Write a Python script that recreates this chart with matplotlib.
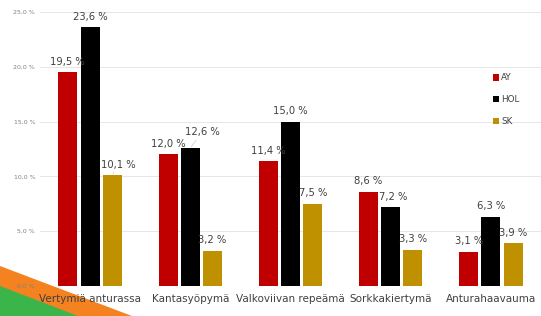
import matplotlib.pyplot as plt
import numpy as np
from matplotlib.patches import Polygon

categories = ["Vertymiä anturassa", "Kantasyöpymä", "Valkoviivan repeämä",
              "Sorkkakiertymä", "Anturahaavauma"]
ay = [19.5, 12.0, 11.4, 8.6, 3.1]
hol = [23.6, 12.6, 15.0, 7.2, 6.3]
sk = [10.1, 3.2, 7.5, 3.3, 3.9]
series_names = ["AY", "HOL", "SK"]
colors = ["#C00000", "#000000", "#BF9000"]

W, H = 541, 316
fig = plt.figure(figsize=(W / 100, H / 100), dpi=100)
ax = fig.add_axes([40 / W, 30 / H, 1 - 40 / W, (286 - 12) / H])
ax.patch.set_visible(False)

# labels that were dragged aside in the original (series idx, category idx) -> (dx, dy) pt
nudges = {(1, 1): (8.5, 3.5), (2, 0): (4, 0), (1, 3): (2, 0)}
leaders = {(1, 1), (2, 0)}

x = np.arange(len(categories))
bw = 0.19
step = 0.222
for i, (vals, name, c) in enumerate(zip([ay, hol, sk], series_names, colors)):
    pos = x + (i - 1) * step
    ax.bar(pos, vals, width=bw, color=c, zorder=3, label=name)
    for j, (p, v) in enumerate(zip(pos, vals)):
        dx, dy = nudges.get((i, j), (0, 0))
        ap = None
        if (i, j) in leaders:
            ap = dict(arrowstyle="-", color="#C8C8C8", lw=0.5, shrinkA=0, shrinkB=1)
        ax.annotate(f"{v:.1f} %".replace(".", ","), xy=(p, v), xytext=(dx, 4 + dy),
                    textcoords="offset points", ha="center", va="bottom",
                    fontsize=7.2, color="#404040", zorder=4, arrowprops=ap)

ax.set_xlim(-0.5, len(categories) - 0.5)
ax.set_ylim(0, 25)
ax.set_yticks(np.arange(0, 26, 5))
ax.set_yticklabels([f"{v:.1f} %".replace(".", ",") for v in np.arange(0, 26, 5)],
                   fontsize=4.5, color="#808080")
ax.set_xticks(x)
ax.set_xticklabels(categories, fontsize=7.5, color="#404040")
ax.tick_params(axis="both", length=0)
ax.tick_params(axis="x", pad=6)
ax.grid(axis="y", color="#E6E6E6", linewidth=0.7, zorder=0)
for s in ax.spines.values():
    s.set_visible(False)

leg = ax.legend(loc="upper left", frameon=False, fontsize=6.3,
                handlelength=0.7, handleheight=0.7, handletextpad=0.3, labelspacing=1.45,
                borderaxespad=0)
leg.set_bbox_to_anchor((489 / W, 1 - 70 / H), transform=fig.transFigure)
for t in leg.get_texts():
    t.set_color("#404040")

# decorative corner shapes (behind the axes)
fig.patches.append(Polygon([[0, 1 - 266 / H], [0, 0], [132 / W, 0]], closed=True,
                           transform=fig.transFigure, facecolor="#F58220", edgecolor="none", zorder=-2))
fig.patches.append(Polygon([[0, 1 - 286 / H], [0, 0], [78 / W, 0]], closed=True,
                           transform=fig.transFigure, facecolor="#3BB54A", edgecolor="none", zorder=-1))

fig.savefig("out.png", dpi=100)
